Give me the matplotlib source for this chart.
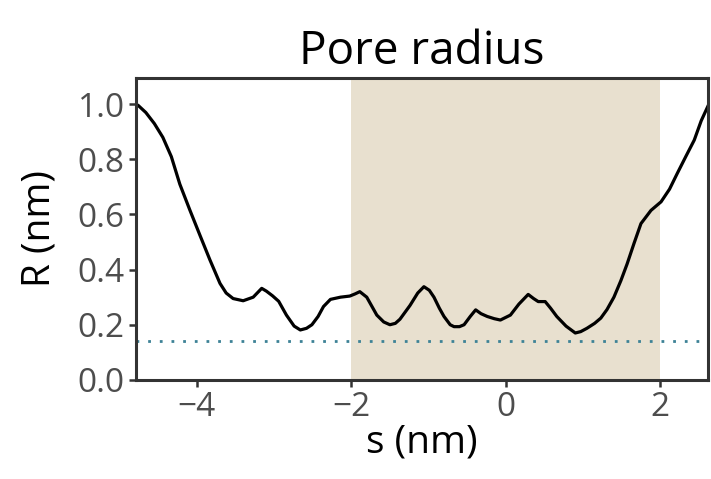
import matplotlib
matplotlib.use("Agg")
import matplotlib.pyplot as plt

s_vals = [-4.79, -4.76, -4.66, -4.55, -4.44, -4.33, -4.22, -4.09, -3.96, -3.83, -3.70, -3.62, -3.53, -3.40,
          -3.27, -3.16, -3.10, -3.02, -2.94, -2.84, -2.74, -2.66, -2.58, -2.51, -2.43, -2.36, -2.27, -2.14,
          -2.02, -1.95, -1.89, -1.80, -1.73, -1.67, -1.58, -1.50, -1.43, -1.37, -1.24, -1.14, -1.06, -0.99,
          -0.93, -0.86, -0.80, -0.72, -0.67, -0.60, -0.54, -0.46, -0.39, -0.32, -0.24, -0.15, -0.07, 0.06,
          0.17, 0.29, 0.36, 0.42, 0.51, 0.58, 0.66, 0.78, 0.90, 0.97, 1.05, 1.15, 1.23, 1.31, 1.40, 1.49,
          1.57, 1.66, 1.75, 1.88, 2.01, 2.12, 2.22, 2.33, 2.44, 2.53, 2.62]
r_vals = [1.0, 0.996, 0.97, 0.93, 0.88, 0.81, 0.71, 0.616, 0.525, 0.435, 0.35, 0.315, 0.295, 0.287,
          0.30, 0.332, 0.322, 0.305, 0.285, 0.235, 0.195, 0.181, 0.187, 0.20, 0.23, 0.266, 0.292, 0.30,
          0.304, 0.312, 0.32, 0.30, 0.265, 0.235, 0.21, 0.20, 0.205, 0.22, 0.27, 0.315, 0.338, 0.325,
          0.30, 0.26, 0.23, 0.20, 0.193, 0.193, 0.20, 0.23, 0.254, 0.24, 0.23, 0.222, 0.217, 0.235,
          0.275, 0.31, 0.295, 0.284, 0.284, 0.26, 0.23, 0.195, 0.17, 0.175, 0.187, 0.205, 0.224, 0.255, 0.30, 0.36,
          0.42, 0.495, 0.567, 0.615, 0.646, 0.692, 0.749, 0.81, 0.87, 0.94, 0.995]
region = [-2.0, 2.0]
threshold = 0.14
xticks = [-4, -2, 0, 2]
yticks = [0.0, 0.2, 0.4, 0.6, 0.8, 1.0]

plt.rcParams['font.family'] = ['Open Sans', 'DejaVu Sans']

fig = plt.figure(figsize=(7.11, 4.79), dpi=100)
ax = fig.add_axes([0.191, 0.207, 0.805, 0.630])

ax.axvspan(region[0], region[1], color='#e8e0cf', lw=0, zorder=0)
ax.axhline(threshold, color='#3d8296', ls=(0, (1, 3.2)), lw=2.0, zorder=1)
ax.plot(s_vals, r_vals, color='black', lw=2.3, zorder=2, solid_joinstyle='round')

ax.set_xlim(-4.79, 2.62)
ax.set_ylim(0, 1.095)
ax.set_xticks(xticks)
ax.set_xticklabels(['\u22124', '\u22122', '0', '2'])
ax.set_yticks(yticks)
ax.set_yticklabels([f'{v:.1f}' for v in yticks])

for sp in ax.spines.values():
    sp.set_color('#333333')
    sp.set_linewidth(2.2)
ax.tick_params(axis='both', colors='#333333', width=1.8, length=5, labelsize=24,
               labelcolor='#4d4d4d', pad=3)

ax.set_xlabel('s (nm)', fontsize=28, color='black', labelpad=0)
ax.set_ylabel('R (nm)', fontsize=28, color='black', labelpad=14)
ax.set_title('Pore radius', fontsize=33, color='black', pad=10)

fig.savefig('out.png', dpi=100)
